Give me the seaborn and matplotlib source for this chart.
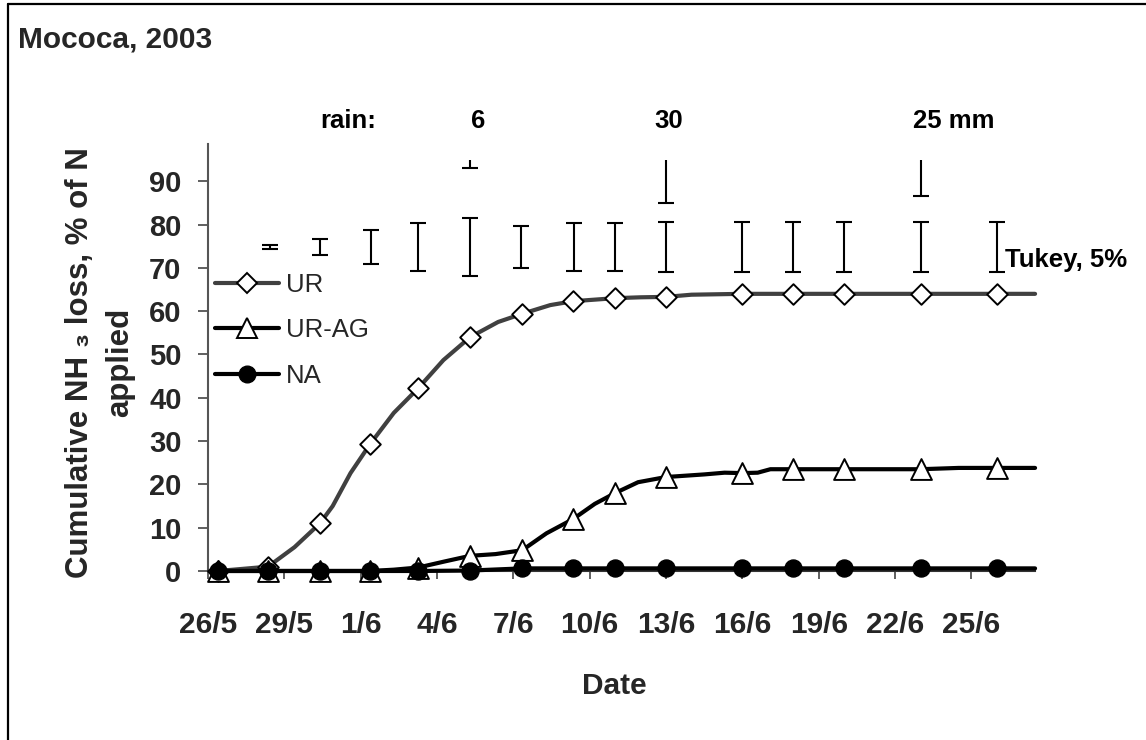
import matplotlib
matplotlib.use("Agg")
import matplotlib.pyplot as plt
from matplotlib.lines import Line2D
import seaborn as sns

# --- data (x = days after 26/5/2003) ---

mark_days = [0.4, 2.36, 4.4, 6.37, 8.26, 10.3, 12.35, 14.35, 16, 18, 21, 23, 25, 28, 31]
ur_mark = [0, 1, 11, 29.3, 42.2, 54, 59.4, 62.3, 63, 63.3, 64, 64, 64, 64, 64]
urag_mark = [0, 0, 0, 0, 0.8, 3.5, 4.8, 12, 18, 21.7, 22.6, 23.5, 23.5, 23.5, 23.8]
na_mark = [0, 0, 0, 0, 0, 0.1, 0.6, 0.6, 0.6, 0.6, 0.6, 0.6, 0.6, 0.6, 0.6]

ur_days = [0.4, 2.36, 3.4, 4.4, 4.9, 5.6, 6.37, 7.3, 8.26, 9.25, 10.3, 11.4, 12.35, 13.45, 14.35,
           16, 17, 18, 19, 21, 32.5]
ur_vals = [0, 1, 5.5, 11, 15, 22.6, 29.3, 36.5, 42.2, 48.7, 54, 57.5, 59.4, 61.4, 62.3,
           63, 63.2, 63.3, 63.8, 64, 64]

urag_days = [0.4, 6.37, 7.3, 8.26, 9.3, 10.3, 11.3, 12.35, 13.3, 14.35, 15.2, 16, 16.9, 18,
             19.5, 20.3, 21, 21.6, 22.1, 28, 29.5, 32.5]
urag_vals = [0, 0, 0.3, 0.8, 2.2, 3.5, 3.9, 4.8, 8.7, 12, 15.5, 18, 20.5, 21.7,
             22.3, 22.7, 22.6, 22.7, 23.5, 23.5, 23.8, 23.8]

na_days = [0.4, 8.26, 10.3, 12.35, 32.5]
na_vals = [0, 0, 0.1, 0.6, 0.6]

tukey_days = [2.44, 4.4, 6.4, 8.26, 10.3, 12.3, 14.4, 16, 18, 21, 23, 25, 28, 31]
tukey_half = [0.4, 1.8, 4.0, 5.5, 6.7, 4.9, 5.5, 5.5, 5.8, 5.8, 5.8, 5.8, 5.8, 5.8]
tukey_mid = 74.8

rain_days = [10.3, 18, 28]
rain_mm = [6, 30, 25]
rain_labels = ["6", "30", "25 mm"]
rain_top = 95

tick_days = [0, 3, 6, 9, 12, 15, 18, 21, 24, 27, 30]
tick_labels = ["26/5", "29/5", "1/6", "4/6", "7/6", "10/6", "13/6", "16/6", "19/6", "22/6", "25/6"]

# --- style ---

sns.set_style("ticks")
plt.rcParams["font.family"] = ["Liberation Sans", "DejaVu Sans"]

fig = plt.figure(figsize=(11.46, 7.40), dpi=100)
ax = fig.add_axes([0.1815, 0.2284, 0.7217, 0.577])

# series: UR (grey), UR-AG, NA
sns.lineplot(x=ur_days, y=ur_vals, color="#404040", linewidth=3, ax=ax, zorder=3, clip_on=False)
sns.scatterplot(x=mark_days, y=ur_mark, marker="D", s=110, color="white", edgecolor="black",
                linewidth=1.4, ax=ax, zorder=4, clip_on=False)

sns.lineplot(x=urag_days, y=urag_vals, color="black", linewidth=3, ax=ax, zorder=5, clip_on=False)
sns.scatterplot(x=mark_days, y=urag_mark, marker="^", s=225, color="white", edgecolor="black",
                linewidth=1.4, ax=ax, zorder=6, clip_on=False)

sns.lineplot(x=na_days, y=na_vals, color="black", linewidth=3, ax=ax, zorder=7, clip_on=False)
sns.scatterplot(x=mark_days, y=na_mark, marker="o", s=150, color="black", edgecolor="black",
                linewidth=1, ax=ax, zorder=8, clip_on=False)

# Tukey bars
ax.errorbar(tukey_days, [tukey_mid] * len(tukey_days), yerr=tukey_half, fmt="none",
            ecolor="black", elinewidth=1.5, capsize=6, capthick=1.5, zorder=2)

# rain bars (length = mm / 3)
rain_low = [rain_top - r / 3 for r in rain_mm]
ax.vlines(rain_days, rain_low, rain_top, color="black", linewidth=1.5)
ax.scatter(rain_days, rain_low, marker="_", s=144, color="black", linewidths=1.5)

txt = dict(fontsize=18.5, fontweight="bold", color="black")
ax.text(5.5, 104, "rain:", ha="center", va="center", **txt)
ax.text(10.6, 104, rain_labels[0], ha="center", va="center", **txt)
ax.text(18.1, 104, rain_labels[1], ha="center", va="center", **txt)
ax.text(27.7, 104, rain_labels[2], ha="left", va="center", **txt)
ax.text(31.3, 70.2, "Tukey, 5%", ha="left", va="baseline", **txt)

# axes
ax.set_xlim(0, 32.5)
ax.set_ylim(0, 98.6)
ax.set_xticks(tick_days)
ax.set_xticklabels(tick_labels)
ax.set_yticks(range(0, 100, 10))
ax.tick_params(axis="x", direction="out", length=6, width=1.2, color="#444444", pad=23,
               labelsize=21.5)
ax.tick_params(axis="y", direction="out", length=7, width=1.2, color="#444444", pad=12,
               labelsize=21)
for lab in ax.get_xticklabels() + ax.get_yticklabels():
    lab.set_fontweight("bold")
sns.despine(ax=ax)
ax.spines["left"].set_color("#555555")
ax.spines["left"].set_linewidth(1.5)
ax.spines["bottom"].set_color("#333333")
ax.spines["bottom"].set_linewidth(1.5)

ax.set_xlabel("Date", fontsize=21.5, fontweight="bold")
ax.xaxis.set_label_coords(0.491, -0.2365)
ax.set_ylabel("Cumulative NH ₃ loss, % of N\napplied", fontsize=22.5, fontweight="bold",
              linespacing=1.45)
ax.yaxis.set_label_coords(-0.088, 0.489)

handles = [
    Line2D([], [], color="#404040", lw=3, marker="D", ms=10.5, mfc="white", mec="black", mew=1.4),
    Line2D([], [], color="black", lw=3, marker="^", ms=15, mfc="white", mec="black", mew=1.4),
    Line2D([], [], color="black", lw=3, marker="o", ms=12, mfc="black", mec="black"),
]
ax.legend(handles, ["UR", "UR-AG", "NA"], loc="upper left", bbox_to_anchor=(0.0085, 0.697),
          frameon=False, fontsize=18.5, borderaxespad=0, borderpad=0, handlelength=2.5,
          handletextpad=0.25, labelspacing=0.82)

# title and outer frame
fig.text(18 / 1146, 1 - 47 / 740, "Mococa, 2003", ha="left", va="baseline",
         fontsize=21.5, fontweight="bold")
fig.add_artist(Line2D([8 / 1146, 8 / 1146], [0, 1 - 4 / 740], color="black", lw=1.6))
fig.add_artist(Line2D([8 / 1146, 1], [1 - 4 / 740, 1 - 4 / 740], color="black", lw=1.6))

fig.savefig("out.png", dpi=100)
